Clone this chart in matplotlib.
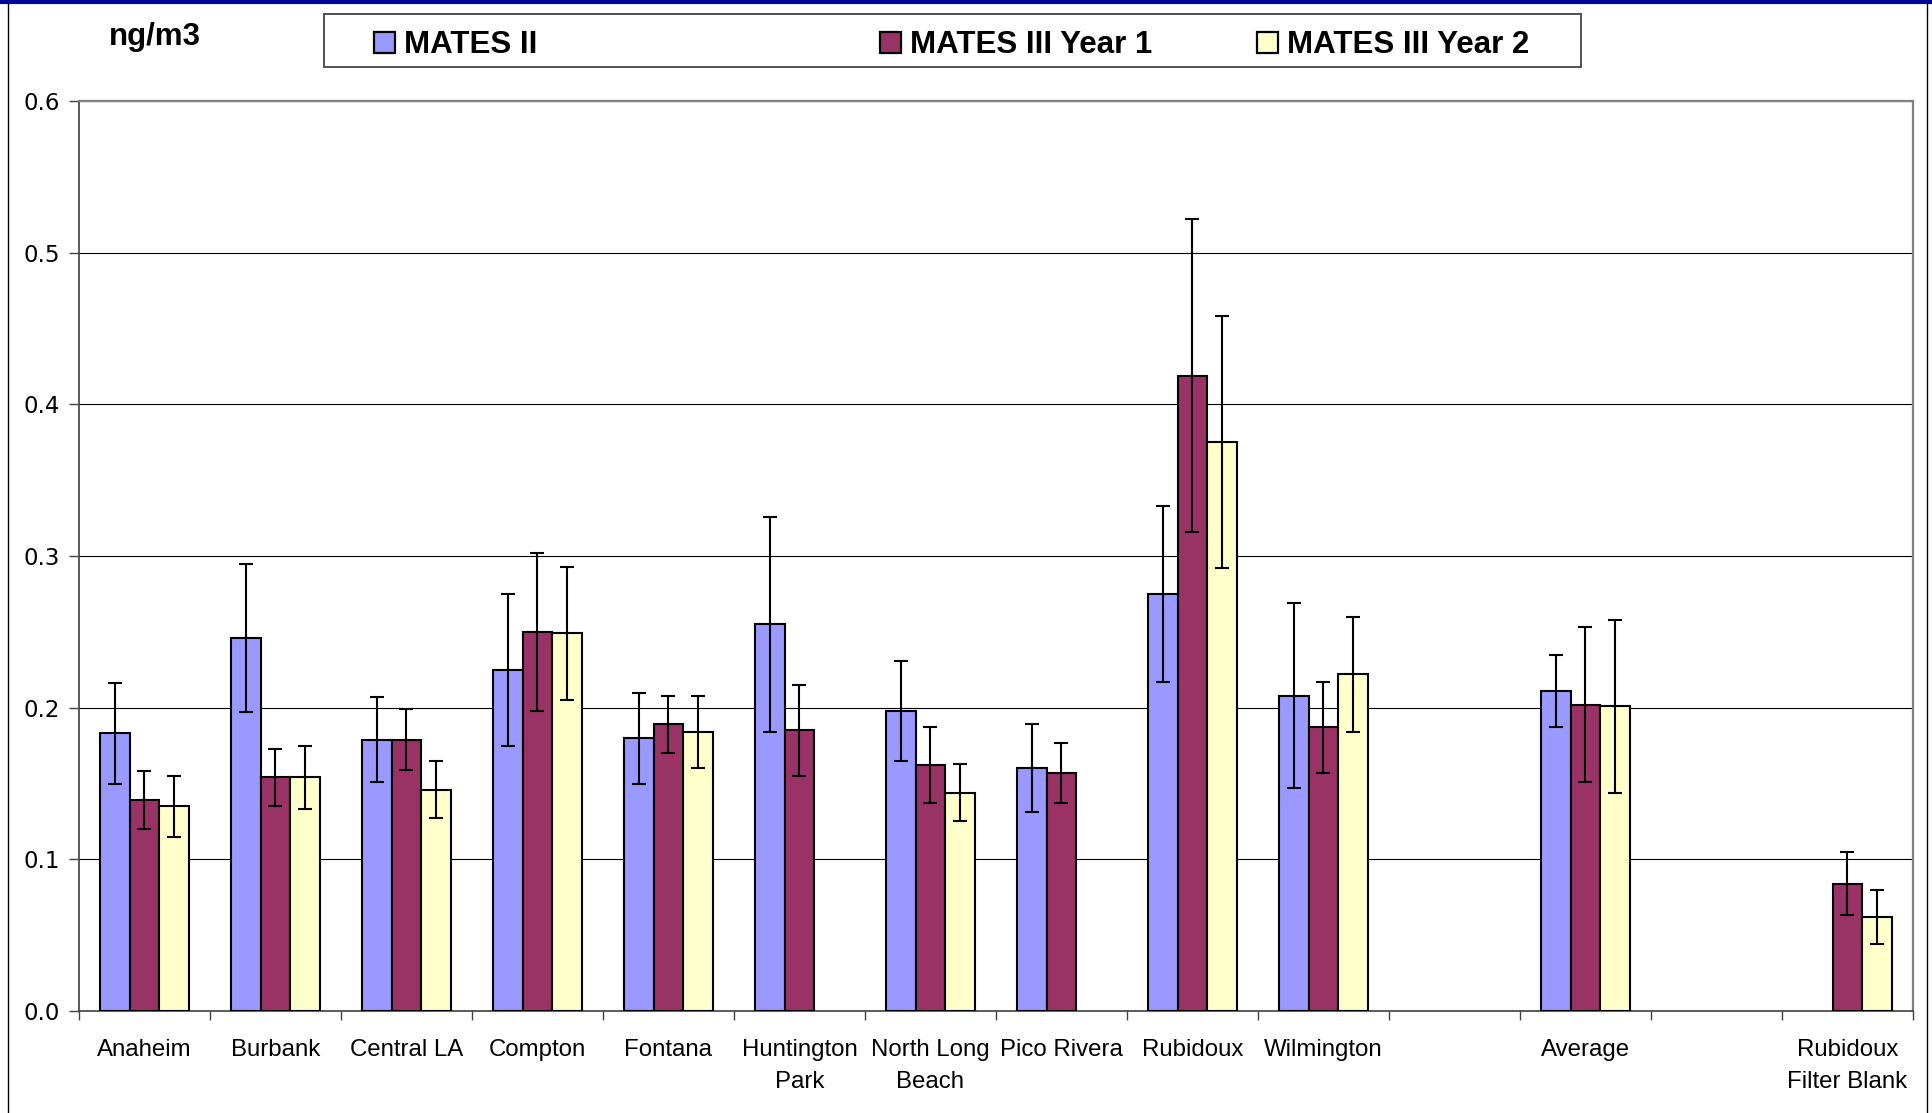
import numpy as np
import matplotlib
matplotlib.use('Agg')
import matplotlib.pyplot as plt
from matplotlib.patches import Rectangle
from matplotlib.lines import Line2D

plt.rcParams['font.family'] = ['Liberation Sans', 'DejaVu Sans']

sites = ['Anaheim', 'Burbank', 'Central LA', 'Compton', 'Fontana', 'Huntington\nPark',
         'North Long\nBeach', 'Pico Rivera', 'Rubidoux', 'Wilmington', '', 'Average', '',
         'Rubidoux\nFilter Blank']
series = ['MATES II', 'MATES III Year 1', 'MATES III Year 2']
colors = ['#9999FF', '#993366', '#FFFFCC']
nan = np.nan

mates2 = [0.183, 0.246, 0.179, 0.225, 0.180, 0.255, 0.198, 0.160, 0.275, 0.208, nan, 0.211, nan, nan]
mates2_err = [0.033, 0.049, 0.028, 0.050, 0.030, 0.071, 0.033, 0.029, 0.058, 0.061, nan, 0.024, nan, nan]
year1 = [0.139, 0.154, 0.179, 0.250, 0.189, 0.185, 0.162, 0.157, 0.419, 0.187, nan, 0.202, nan, 0.084]
year1_err = [0.019, 0.019, 0.020, 0.052, 0.019, 0.030, 0.025, 0.020, 0.103, 0.030, nan, 0.051, nan, 0.021]
year2 = [0.135, 0.154, 0.146, 0.249, 0.184, nan, 0.144, nan, 0.375, 0.222, nan, 0.201, nan, 0.062]
year2_err = [0.020, 0.021, 0.019, 0.044, 0.024, nan, 0.019, nan, 0.083, 0.038, nan, 0.057, nan, 0.018]

values = [mates2, year1, year2]
errors = [mates2_err, year1_err, year2_err]

W, H = 1933, 1113
fig = plt.figure(figsize=(W / 100, H / 100), dpi=100)
ax = fig.add_axes([79 / W, 1 - 1011 / H, (1913 - 79) / W, (1011 - 101) / H])

x = np.arange(len(sites))
bw = 0.224
for i in range(3):
    pos = x + (i - 1) * bw
    ax.bar(pos, values[i], bw, color=colors[i], edgecolor='black', linewidth=1.5, zorder=3)
    ax.errorbar(pos, values[i], yerr=errors[i], fmt='none', ecolor='black',
                elinewidth=1.5, capsize=5.2, capthick=1.5, zorder=4)

ax.set_xlim(-0.5, len(sites) - 0.5)
ax.set_ylim(0, 0.6)
ax.set_yticks(np.arange(0, 0.61, 0.1))
ax.set_yticklabels(['%.1f' % v for v in np.arange(0, 0.61, 0.1)], fontsize=16.5, family='DejaVu Sans')
ax.yaxis.grid(True, color='black', linewidth=0.8, zorder=0)
ax.set_axisbelow(True)

ax.set_xticks(x)
ax.set_xticklabels(sites, fontsize=17.3, linespacing=1.62)
ax.set_xticks(np.arange(-0.5, len(sites), 1), minor=True)
ax.tick_params(axis='x', which='major', length=0, pad=20)
ax.tick_params(axis='x', which='minor', length=6.7, width=1, color='#404040', direction='out')
ax.tick_params(axis='y', length=7.5, width=1, color='#404040', pad=6.5)

for s in ['top', 'right']:
    ax.spines[s].set_color('#808080')
    ax.spines[s].set_linewidth(1.6)
for s in ['left', 'bottom']:
    ax.spines[s].set_color('#404040')
    ax.spines[s].set_linewidth(1.2)

# unit label
fig.text(155 / W, 1 - 45 / H, 'ng/m3', fontsize=22.5, fontweight='bold', ha='center', va='baseline')

# legend box
fig.add_artist(Rectangle((324 / W, 1 - 67 / H), (1581 - 324) / W, 53 / H, transform=fig.transFigure,
                         facecolor='white', edgecolor='#505050', linewidth=1.4))
mark_x = [374, 880, 1257]
text_x = [404, 910, 1287]
for i in range(3):
    fig.add_artist(Rectangle((mark_x[i] / W, 1 - 53 / H), 21 / W, 21 / H, transform=fig.transFigure,
                             facecolor=colors[i], edgecolor='black', linewidth=1.6))
    fig.text(text_x[i] / W, 1 - 53 / H, series[i], fontsize=22.5, fontweight='bold', va='baseline', ha='left')

# chart frame
fig.add_artist(Line2D([8 / W, 8 / W], [0, 1], transform=fig.transFigure, color='black', linewidth=1))
fig.add_artist(Line2D([1927 / W, 1927 / W], [0, 1], transform=fig.transFigure, color='black', linewidth=1))
fig.add_artist(Line2D([0, 1], [1 - 2 / H, 1 - 2 / H], transform=fig.transFigure, color='#000099', linewidth=3))

fig.savefig('out.png', dpi=100)
